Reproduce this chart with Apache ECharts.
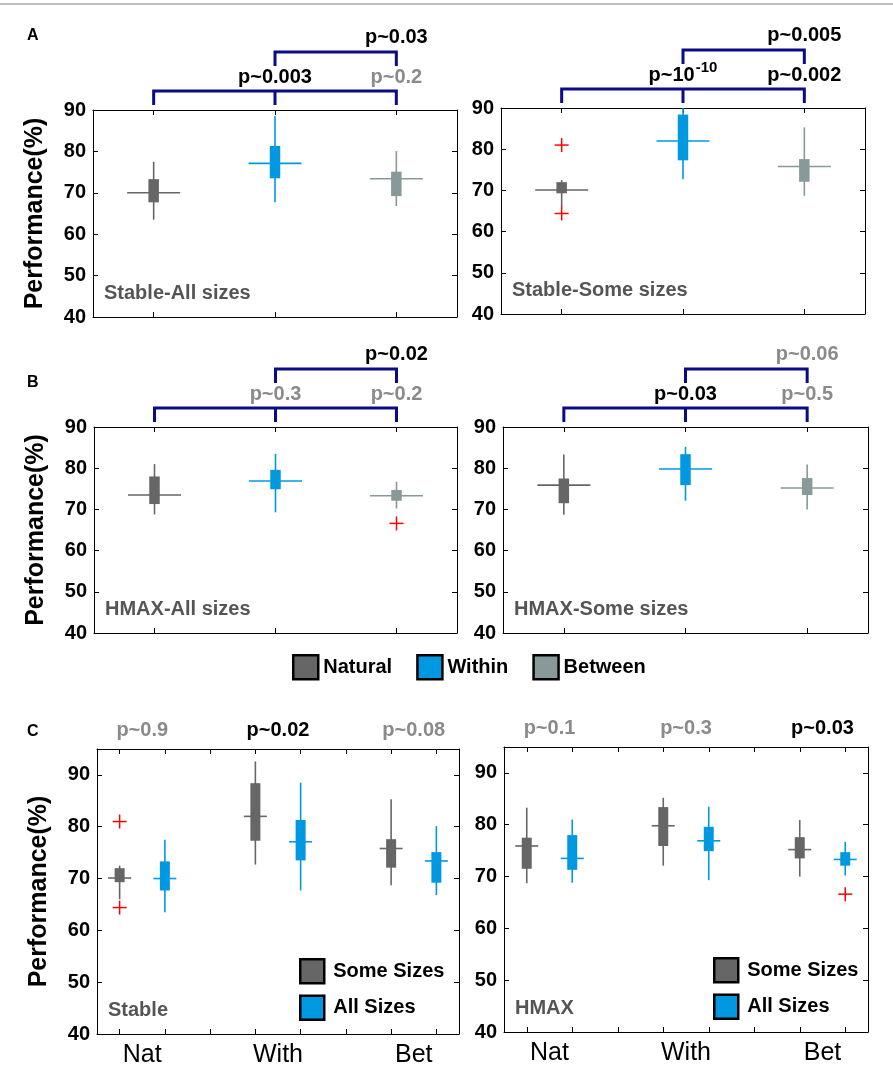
<!DOCTYPE html>
<html>
<head>
<meta charset="utf-8">
<script src="https://cdn.jsdelivr.net/npm/echarts@6/dist/echarts.min.js"></script>
<style>
    body { margin: 0; background: #fff; }
    #main { width: 893px; height: 1087px; }
</style>
</head>
<body>
<div id="main"></div>
<script>
// box stats: [lower whisker, q1, median, q3, upper whisker], one per group
var groups = ['Natural', 'Within', 'Between'];
var groupColors = ['#666666', '#0098e0', '#879a99'];
var stableAll = [[63.5, 67.7, 70.0, 73.3, 77.5], [67.7, 73.5, 77.1, 81.3, 88.5], [66.8, 69.2, 73.4, 75.1, 80.1]];
var stableSome = [[66.0, 69.3, 70.1, 72.0, 72.5], [72.7, 77.3, 82.0, 88.4, 92.6], [68.7, 72.1, 75.8, 77.6, 85.3]];
var hmaxAll = [[68.8, 71.3, 73.5, 78.0, 81.0], [69.3, 74.9, 76.9, 79.6, 83.5], [70.2, 72.1, 73.3, 74.7, 76.7]];
var hmaxSome = [[68.7, 71.5, 75.9, 77.5, 83.3], [72.1, 75.9, 79.8, 83.4, 85.2], [70.0, 73.5, 75.2, 77.6, 80.9]];
// outliers: [group index, value]
var stableSomeOut = [[0, 81.0], [0, 64.4]];
var stableAllOut = [];
var hmaxSomeOut = [];
var hmaxAllOut = [[2, 66.6]];
// p-values: [Nat-With, Nat-Bet, With-Bet]
var pStableAll = [0.003, 0.2, 0.03];
var pStableSome = [1e-10, 0.002, 0.005];
var pHmaxAll = [0.3, 0.2, 0.02];
var pHmaxSome = [0.03, 0.5, 0.06];
// p-values Some vs All sizes for Nat, With, Bet
var pStableSizes = [0.9, 0.02, 0.08];
var pHmaxSizes = [0.1, 0.3, 0.03];
var sizeCats = ['Nat', 'With', 'Bet'];
var sizeNames = ['Some Sizes', 'All Sizes'];
var sizeColors = ['#666666', '#0098e0'];
var yTicks = [40, 50, 60, 70, 80, 90];

var FONT = 'Liberation Sans, Arial, sans-serif';

var grids = [
    {left: 93, top: 110, width: 364, height: 207},
    {left: 501, top: 108, width: 364, height: 206},
    {left: 94, top: 427, width: 363, height: 206},
    {left: 503, top: 427, width: 365, height: 206},
    {left: 97, top: 749, width: 362, height: 285},
    {left: 504, top: 747, width: 364, height: 285}
];

function pText(p) {
    if (p < 1e-6) {
        return 'p~10{sup|' + Math.round(Math.log10(p)) + '}';
    }
    return 'p~' + p;
}

function pColor(p) {
    return p < 0.05 ? '#000000' : '#8a8a8a';
}

var xAxes = [];
var yAxes = [];

function addAxes(i, xmin, xmax, xticks, xlabels, ymax, yname) {
    var lineStyle = {color: '#000', width: 1};
    var label = {show: false};
    if (xlabels) {
        label = {
            customValues: xlabels,
            fontSize: 25,
            fontFamily: FONT,
            color: '#000',
            margin: 9,
            formatter: function (v) {
                return sizeCats[Math.round((v - 1.5) / 3)];
            }
        };
    }
    ['bottom', 'top'].forEach(function (pos) {
        xAxes.push({
            gridIndex: i, type: 'value', min: xmin, max: xmax, position: pos,
            axisLine: {show: true, onZero: false, lineStyle: lineStyle},
            axisTick: {show: true, inside: true, length: 5, customValues: xticks, lineStyle: lineStyle},
            axisLabel: pos === 'bottom' ? label : {show: false},
            splitLine: {show: false}
        });
    });
    ['left', 'right'].forEach(function (pos) {
        yAxes.push({
            gridIndex: i, type: 'value', min: 40, max: ymax, position: pos,
            name: pos === 'left' ? yname : '',
            nameLocation: 'middle', nameGap: 45,
            nameTextStyle: {fontSize: 25, fontWeight: 'bold', fontFamily: FONT, color: '#000'},
            axisLine: {show: true, onZero: false, lineStyle: lineStyle},
            axisTick: {show: true, inside: true, length: 5, customValues: yTicks, lineStyle: lineStyle},
            axisLabel: pos === 'left' ? {
                customValues: yTicks, fontSize: 20, fontWeight: 'bold', fontFamily: FONT,
                color: '#000', margin: 7
            } : {show: false},
            splitLine: {show: false}
        });
    });
}

function boxRender(boxW, medW) {
    return function (params, api) {
        var x = api.value(0);
        var lo = api.coord([x, api.value(1)]);
        var q1 = api.coord([x, api.value(2)]);
        var md = api.coord([x, api.value(3)]);
        var q3 = api.coord([x, api.value(4)]);
        var hi = api.coord([x, api.value(5)]);
        var col = api.visual('color');
        return {
            type: 'group',
            children: [
                {type: 'line', shape: {x1: lo[0], y1: lo[1], x2: hi[0], y2: hi[1]}, style: {stroke: col, lineWidth: 1.6}},
                {type: 'rect', shape: {x: q1[0] - boxW / 2, y: q3[1], width: boxW, height: q1[1] - q3[1]}, style: {fill: col}},
                {type: 'line', shape: {x1: md[0] - medW / 2, y1: md[1], x2: md[0] + medW / 2, y2: md[1]}, style: {stroke: col, lineWidth: 1.6}}
            ]
        };
    };
}

function outlierRender(params, api) {
    var p = api.coord([api.value(0), api.value(1)]);
    var s = 7;
    return {
        type: 'group',
        children: [
            {type: 'line', shape: {x1: p[0] - s, y1: p[1], x2: p[0] + s, y2: p[1]}, style: {stroke: '#ff0000', lineWidth: 1.5}},
            {type: 'line', shape: {x1: p[0], y1: p[1] - s, x2: p[0], y2: p[1] + s}, style: {stroke: '#ff0000', lineWidth: 1.5}}
        ]
    };
}

function pLabel(x, y, p) {
    return {
        type: 'text',
        style: {
            x: x, y: y, text: pText(p), fill: pColor(p),
            fontSize: 20, fontWeight: 'bold', fontFamily: FONT,
            align: 'center', verticalAlign: 'middle',
            rich: {sup: {fontSize: 15, fontWeight: 'bold', fontFamily: FONT, fill: pColor(p), padding: [0, 0, 14, 1]}}
        }
    };
}

function bracketRender(pvals) {
    return function (params, api) {
        var a = api.coord([1, 90]), b = api.coord([2, 90]), c = api.coord([3, 90]);
        var top = a[1];
        var lowY = top - 19, upY = top - 58;
        var st = {stroke: '#0b0b85', lineWidth: 3, fill: null};
        return {
            type: 'group',
            children: [
                {type: 'polyline', shape: {points: [[a[0], top - 5], [a[0], lowY], [c[0], lowY], [c[0], top - 5]]}, style: st},
                {type: 'line', shape: {x1: b[0], y1: lowY, x2: b[0], y2: top - 5}, style: st},
                {type: 'polyline', shape: {points: [[b[0], upY + 14], [b[0], upY], [c[0], upY], [c[0], upY + 14]]}, style: st},
                pLabel(b[0], top - 33, pvals[0]),
                pLabel(c[0], top - 33, pvals[1]),
                pLabel(c[0], top - 73, pvals[2])
            ]
        };
    };
}

function sizeLabelRender(pvals) {
    return function (params, api) {
        var pt = api.coord([api.value(0), 95]);
        return pLabel(pt[0], pt[1] - 19, pvals[params.dataIndex]);
    };
}

var series = [];

function addGroupPanel(i, stats, outs, pvals) {
    for (var g = 0; g < groups.length; g++) {
        series.push({
            name: groups[g], type: 'custom', xAxisIndex: i * 2, yAxisIndex: i * 2,
            itemStyle: {color: groupColors[g]}, clip: true, z: 3,
            renderItem: boxRender(10.5, 53),
            data: [[g + 1].concat(stats[g])]
        });
    }
    series.push({
        type: 'custom', xAxisIndex: i * 2, yAxisIndex: i * 2, clip: true, z: 4,
        renderItem: outlierRender,
        data: outs.map(function (o) { return [o[0] + 1, o[1]]; })
    });
    series.push({
        type: 'custom', xAxisIndex: i * 2, yAxisIndex: i * 2, clip: false, z: 5,
        renderItem: bracketRender(pvals),
        data: [[2, 90]]
    });
}

function addSizePanel(i, some, all, someOut, allOut, pvals) {
    var sets = [some, all];
    var outSets = [someOut, allOut];
    for (var s = 0; s < 2; s++) {
        var data = [];
        for (var k = 0; k < sizeCats.length; k++) {
            data.push([3 * k + 1 + s].concat(sets[s][k]));
        }
        series.push({
            name: sizeNames[s], type: 'custom', xAxisIndex: i * 2, yAxisIndex: i * 2,
            itemStyle: {color: sizeColors[s]}, clip: true, z: 3,
            renderItem: boxRender(10, 23),
            data: data
        });
        series.push({
            type: 'custom', xAxisIndex: i * 2, yAxisIndex: i * 2, clip: true, z: 4,
            renderItem: outlierRender,
            data: outSets[s].map(function (o) { return [3 * o[0] + 1 + s, o[1]]; })
        });
    }
    series.push({
        type: 'custom', xAxisIndex: i * 2, yAxisIndex: i * 2, clip: false, z: 5,
        renderItem: sizeLabelRender(pvals),
        data: sizeCats.map(function (c, k) { return [3 * k + 1.5, 95]; })
    });
}

var groupTicks = [1, 2, 3];
var sizeTicks = [1, 2, 3, 4, 5, 6, 7, 8];
addAxes(0, 0.5, 3.5, groupTicks, null, 90, 'Performance(%)');
addAxes(1, 0.5, 3.5, groupTicks, null, 90, '');
addAxes(2, 0.5, 3.5, groupTicks, null, 90, 'Performance(%)');
addAxes(3, 0.5, 3.5, groupTicks, null, 90, '');
addAxes(4, 0.5, 8.5, sizeTicks, [1.5, 4.5, 7.5], 95, 'Performance(%)');
addAxes(5, 0.5, 8.5, sizeTicks, [1.5, 4.5, 7.5], 95, '');

addGroupPanel(0, stableAll, stableAllOut, pStableAll);
addGroupPanel(1, stableSome, stableSomeOut, pStableSome);
addGroupPanel(2, hmaxAll, hmaxAllOut, pHmaxAll);
addGroupPanel(3, hmaxSome, hmaxSomeOut, pHmaxSome);
addSizePanel(4, stableSome, stableAll, stableSomeOut, stableAllOut, pStableSizes);
addSizePanel(5, hmaxSome, hmaxAll, hmaxSomeOut, hmaxAllOut, pHmaxSizes);

var panelNames = ['Stable-All sizes', 'Stable-Some sizes', 'HMAX-All sizes', 'HMAX-Some sizes', 'Stable', 'HMAX'];
var titles = [];
panelNames.forEach(function (t, i) {
    var g = grids[i];
    titles.push({
        text: t, left: g.left + 11, top: g.top + g.height - 34, padding: 0,
        textStyle: {fontSize: 20, fontWeight: 'bold', fontFamily: FONT, color: '#555555'}
    });
});
[['A', 28], ['B', 375], ['C', 724]].forEach(function (l) {
    titles.push({
        text: l[0], left: 27, top: l[1], padding: 0,
        textStyle: {fontSize: 16, fontWeight: 'bold', fontFamily: FONT, color: '#000'}
    });
});

function legendItems(names, colors) {
    return names.map(function (n, k) {
        return {name: n, icon: 'rect', itemStyle: {color: colors[k], borderColor: '#000', borderWidth: 2.5}};
    });
}

var legendText = {fontSize: 20, fontWeight: 'bold', fontFamily: FONT, color: '#000', padding: [0, 0, 0, 0]};
var sizeLegendText = {fontSize: 20, fontWeight: 'bold', fontFamily: FONT, color: '#000', padding: [0, 0, 0, 4]};

var myChart = echarts.init(document.getElementById('main'), null, {renderer: 'canvas'});
myChart.setOption({
    animation: false,
    backgroundColor: '#fff',
    title: titles,
    grid: grids,
    xAxis: xAxes,
    yAxis: yAxes,
    legend: [
        {
            data: legendItems(groups, groupColors), left: 292, top: 654, orient: 'horizontal',
            itemWidth: 25, itemHeight: 24, itemGap: 24, selectedMode: false, padding: 0,
            textStyle: legendText
        },
        {
            data: legendItems(sizeNames, sizeColors), left: 299, top: 958, orient: 'vertical',
            itemWidth: 24, itemHeight: 24, itemGap: 10, selectedMode: false, padding: 0,
            textStyle: sizeLegendText
        },
        {
            data: legendItems(sizeNames, sizeColors), left: 713, top: 957, orient: 'vertical',
            itemWidth: 24, itemHeight: 24, itemGap: 10, selectedMode: false, padding: 0,
            textStyle: sizeLegendText
        }
    ],
    graphic: [
        {type: 'line', shape: {x1: 0, y1: 4, x2: 893, y2: 4}, style: {stroke: '#aaaaaa', lineWidth: 1.5}}
    ],
    series: series
});
</script>
</body>
</html>
